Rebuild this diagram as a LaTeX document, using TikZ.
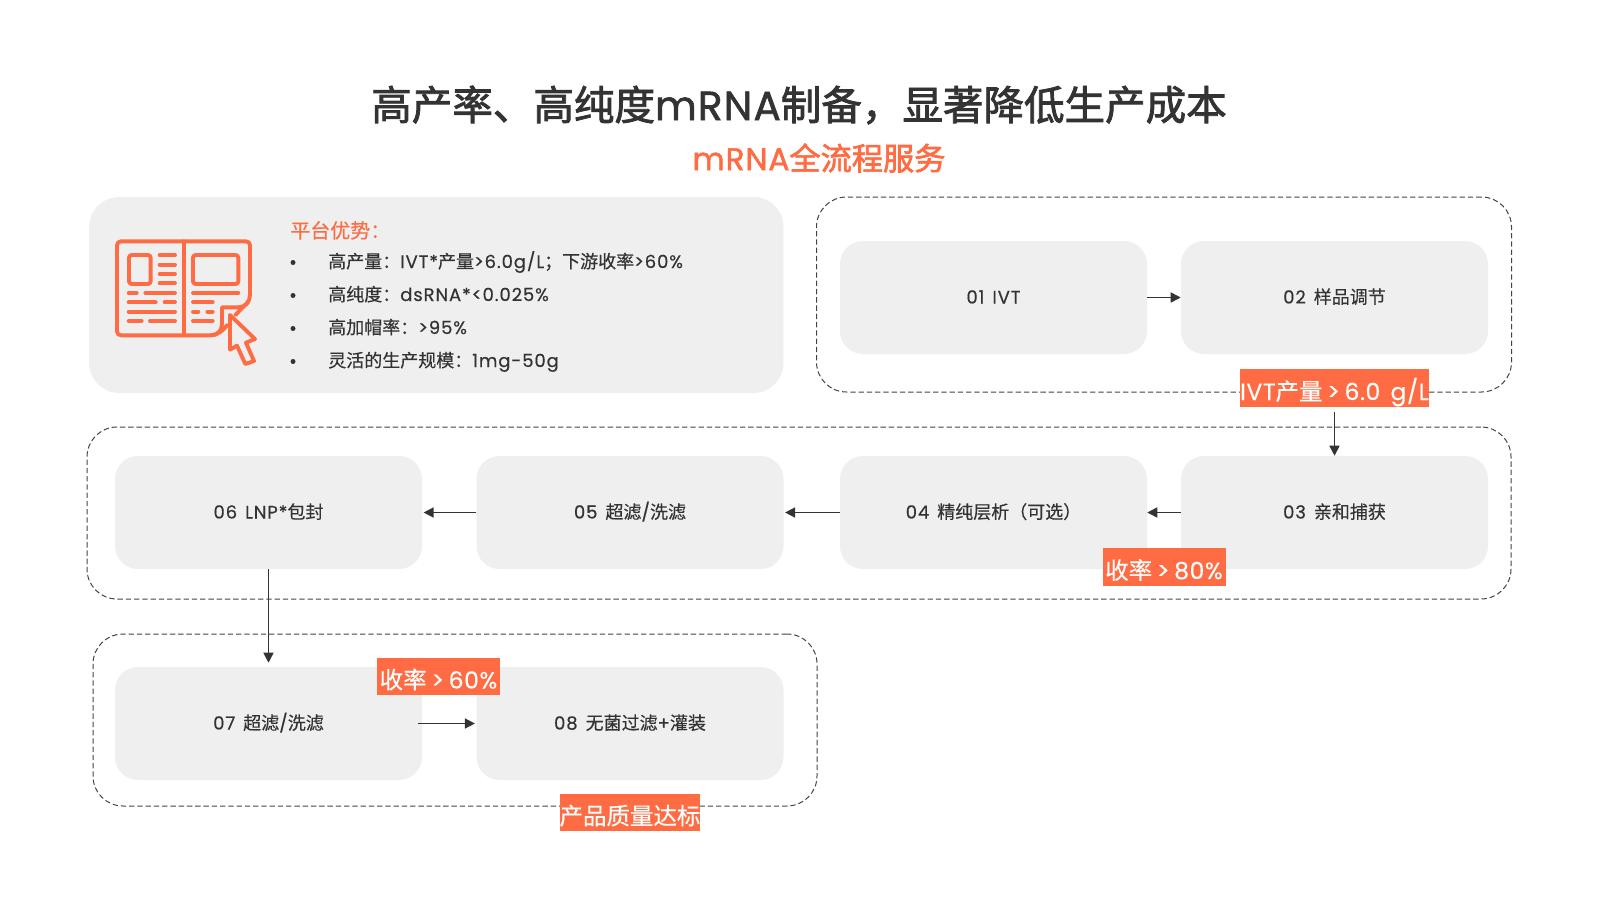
\documentclass[tikz,border=0pt]{standalone}
\usepackage{fontspec}
\setmainfont[LetterSpace=5,WordSpace=1.4,FakeBold=0.4]{Poppins}
\newfontfamily\taglat[LetterSpace=2.5,WordSpace=1.5,FakeBold=0.3]{Poppins}
\newfontfamily\cjkfont[FakeBold=0.4]{Noto Sans CJK SC}
\newfontfamily\cjktag[FakeBold=0.3]{Noto Sans CJK SC}
\newfontfamily\cjkmed[FakeBold=2]{Noto Sans CJK SC}
\newfontfamily\latmed[FakeBold=1.5,LetterSpace=3]{Poppins}
\newcommand\zh[1]{{\cjkfont #1}}
\newcommand\zt[1]{{\cjktag #1}}
\newcommand\zm[1]{{\cjkmed #1}}
\newcommand\lm[1]{{\latmed #1}}
\newcommand\gtsign{\hspace{.2em}>\hspace{.2em}}
\usetikzlibrary{arrows.meta}
\definecolor{acc}{HTML}{FF6C43}
\definecolor{panel}{HTML}{EFEFEF}
\definecolor{ink}{HTML}{333333}
\definecolor{dash}{HTML}{444444}
\tikzset{
  stepbox/.style={fill=panel,rounded corners=17.25pt,minimum width=230.25pt,minimum height=84.75pt,inner sep=0pt,
    text=ink,font=\fontsize{13.5pt}{16pt}\selectfont,text height=11pt,text depth=2pt},
  groupbox/.style={draw=dash,line width=.75pt,dash pattern=on 4pt off 2.2pt,rounded corners=22.5pt,inner sep=0pt},
  tagbox/.style={fill=acc,text=white,inner sep=0pt,minimum height=28pt,font=\taglat\fontsize{17.6pt}{20pt}\selectfont,text height=18pt,text depth=0pt},
  flow/.style={draw=ink,line width=1.2pt,-{Triangle[length=7.5pt,width=7.5pt]}},
  bodytext/.style={text=ink,anchor=base west,inner sep=0pt,font=\fontsize{13.5pt}{16pt}\selectfont},
  iconline/.style={draw=acc,line width=2.9pt,line cap=round,line join=round},
}
\begin{document}
\begin{tikzpicture}[x=.75pt,y=-.75pt]
\useasboundingbox (0,0) rectangle (1600,900);
\fill[white] (0,0) rectangle (1600,900);
% titles
\node[text=ink,inner sep=0pt,font=\fontsize{30.4pt}{36pt}\selectfont] (title) at (799,105) {\zm{高产率、高纯度}\lm{mRNA}\zm{制备，显著降低生产成本}};
\node[text=acc,inner sep=0pt,font=\fontsize{23.4pt}{27pt}\selectfont] (subtitle) at (819,158) {\lm{mRNA}\zm{全流程服务}};
% panel
\node[fill=panel,rounded corners=22.5pt,minimum width=520.75pt,minimum height=147pt,inner sep=0pt] (adv) at (436.3,295) {};
% groups
\node[groupbox,minimum width=521.25pt,minimum height=146.25pt] (g1) at (1164,294.5) {};
\node[groupbox,minimum width=1068pt,minimum height=129pt] (g2) at (799,513) {};
\node[groupbox,minimum width=543pt,minimum height=129pt] (g3) at (455,720) {};
% steps
\node[stepbox] (s1) at (993.5,297.5) {01 IVT};
\node[stepbox] (s2) at (1334.5,297.5) {02 \zh{样品调节}};
\node[stepbox] (s3) at (1334.5,512.5) {03 \zh{亲和捕获}};
\node[stepbox] (s4) at (993.5,512.5) {04 \zh{精纯层析（可选）}};
\node[stepbox] (s5) at (630,512.5) {05 \zh{超滤}/\zh{洗滤}};
\node[stepbox] (s6) at (268.5,512.5) {06 LNP*\zh{包封}};
\node[stepbox] (s7) at (268.5,723.5) {07 \zh{超滤}/\zh{洗滤}};
\node[stepbox] (s8) at (630,723.5) {08 \zh{无菌过滤}+\zh{灌装}};
% tags
\node[tagbox,minimum width=141.75pt] (t1) at (1334.5,388) {IVT\zt{产量}\gtsign 6.0 g/L};
\node[tagbox,minimum width=92.25pt] (t2) at (1164,567) {\zt{收率}\gtsign 80\%};
\node[tagbox,minimum width=92.25pt] (t3) at (438.5,676.5) {\zt{收率}\gtsign 60\%};
\node[tagbox,minimum width=105pt] (t4) at (630,812.5) {\zt{产品质量达标}};
% connectors
\draw[flow] (s1.east) -- (s2.west);
\draw[flow,shorten <=3.75pt] (t1.south) -- (s3.north);
\draw[flow] (s3.west) -- (s4.east);
\draw[flow,shorten >=1pt] (s4.west) -- (s5.east);
\draw[flow,shorten >=1pt] (s5.west) -- (s6.east);
\draw[flow,shorten >=3pt] (s6.south) -- (s7.north);
\draw[flow,shorten <=-3pt,shorten >=1pt] (s7.east) -- (s8.west);
% advantages
\node[text=acc,anchor=base west,inner sep=0pt,font=\fontsize{15pt}{18pt}\selectfont] (advh) at (290,238) {\zh{平台优势：}};
\foreach \n/\yy in {1/268,2/301,3/334,4/367}{
  \fill[ink] (293,\yy-5.5) circle (2.5) coordinate (b\n);
}
\node[bodytext] (l1) at (328,268) {\zh{高产量：}IVT*\zh{产量}>6.0g/L\zh{；下游收率}>60\%};
\node[bodytext] (l2) at (328,301) {\zh{高纯度：}dsRNA*<0.025\%};
\node[bodytext] (l3) at (328,334) {\zh{高加帽率：}>95\%};
\node[bodytext] (l4) at (328,367) {\zh{灵活的生产规模：}1mg-50g};
% icon
\begin{scope}[shift={(90,200)},x=.25pt,y=-.25pt]
  \draw[iconline] (396,322) -- (396,372) .. controls (396,392) and (382,406) .. (362,406) -- (93,406)
     .. controls (86,406) and (81,401) .. (81,394) -- (81,136) .. controls (81,129) and (86,124) .. (93,124)
     -- (468,124) .. controls (475,124) and (480,129) .. (480,136) -- (480,285)
     .. controls (480,305) and (466,322) .. (445,322) -- cycle;
  \draw[iconline] (281,124) -- (281,406);
  \draw[iconline] (362,406) .. controls (385,405) and (400,390) .. (412,375);
  \draw[iconline] (475,305) -- (436,345);
  \draw[iconline,rounded corners=2pt] (117,165) rectangle (182,252);
  \draw[iconline,rounded corners=2pt] (309,165) rectangle (445,252);
  \foreach \a/\b/\c in {209/255/165,209/255/194,209/255/222,209/255/250,
     116/140/279,166/255/279,116/197/307,224/255/307,116/255/335,116/155/363,180/255/363,
     309/445/279,309/368/307,309/325/335,352/368/335,309/368/363}{
    \draw[iconline] (\a,\c) -- (\b,\c);
  }
  \draw[iconline,fill=panel,line join=round] (420,345) -- (495,417) -- (468,428) -- (492,483) -- (466,492) -- (441,437) -- (420,449) -- cycle;
\end{scope}
\end{tikzpicture}
\end{document}
